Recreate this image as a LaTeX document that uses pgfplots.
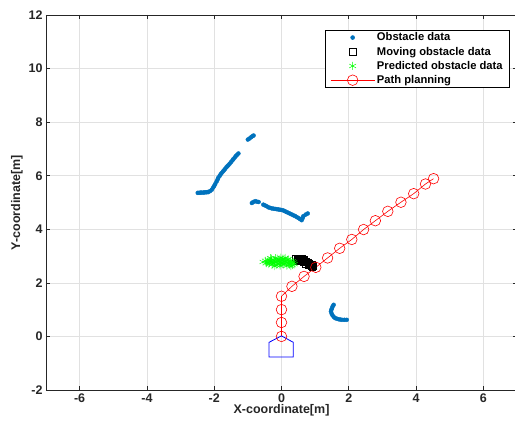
\documentclass[border=0pt]{standalone}
\usepackage{pgfplots}
\pgfplotsset{compat=1.18}
\usepackage{fontspec}
\setmainfont{Liberation Sans}
\definecolor{obsblue}{rgb}{0,0.447,0.741}
\definecolor{gridgray}{RGB}{225,225,225}
\definecolor{axgray}{RGB}{38,38,38}
\pgfplotsset{
    widelegend/.style={legend image code/.code={
        \draw[mark repeat=2,mark phase=2,##1] plot coordinates {(0pt,0pt) (22pt,0pt) (44pt,0pt)};}},
}
\begin{document}
\begin{tikzpicture}
\begin{axis}[
    scale only axis,
    width=471pt, height=375pt,
    xmin=-7, xmax=7, ymin=-2, ymax=12,
    xtick={-6,-4,...,6}, ytick={-2,0,...,12},
    tick align=inside,
    major tick length=4pt,
    grid=major,
    grid style={gridgray, line width=0.6pt},
    axis line style={axgray, line width=0.6pt},
    tick style={axgray, line width=0.6pt},
    ticklabel style={font=\bfseries\fontsize{12.5}{14}\selectfont, text=axgray},
    /pgf/number format/assume math mode=true,
    xlabel={X-coordinate[m]}, ylabel={Y-coordinate[m]},
    label style={font=\bfseries\fontsize{12.5}{14}\selectfont, text=axgray},
    xlabel style={yshift=5pt},
    ylabel style={yshift=-1pt},
    legend style={at={(0.985,0.96)}, anchor=north east,
        font=\bfseries\fontsize{11.2}{12}\selectfont, draw=black, line width=0.5pt,
        row sep=0.6pt, inner xsep=5pt, inner ysep=0.5pt,
        /tikz/every even column/.append style={column sep=2pt}},
    legend cell align=left,
]
\coordinate (sw) at (rel axis cs:0,0);
% obstacle data
\addplot[only marks, mark=*, mark size=2pt, color=obsblue, widelegend] coordinates {
(-2.49,5.36) (-2.45,5.36) (-2.41,5.37) (-2.37,5.37) (-2.32,5.37) (-2.28,5.38)
(-2.24,5.38) (-2.20,5.39) (-2.17,5.39) (-2.12,5.43) (-2.07,5.48) (-2.03,5.56)
(-2.00,5.62) (-1.97,5.69) (-1.93,5.78) (-1.90,5.86) (-1.88,5.92) (-1.84,5.99)
(-1.81,6.05) (-1.78,6.10) (-1.74,6.16) (-1.71,6.20) (-1.68,6.25) (-1.64,6.31)
(-1.61,6.35) (-1.58,6.39) (-1.54,6.45) (-1.50,6.51) (-1.46,6.57) (-1.43,6.62)
(-1.39,6.68) (-1.36,6.73) (-1.32,6.78) (-1.28,6.83)
(-1.00,7.35) (-0.95,7.39) (-0.90,7.44) (-0.86,7.48) (-0.83,7.50)
(-0.88,4.98) (-0.84,5.02) (-0.78,5.05) (-0.73,5.03) (-0.68,5.02)
(-0.54,4.92) (-0.49,4.89) (-0.44,4.86) (-0.39,4.82) (-0.34,4.80) (-0.29,4.78)
(-0.24,4.77) (-0.19,4.76) (-0.14,4.75) (-0.09,4.74) (-0.04,4.73) (0.01,4.72)
(0.06,4.70) (0.11,4.67) (0.16,4.64) (0.21,4.61) (0.26,4.58) (0.31,4.55)
(0.36,4.52) (0.41,4.49) (0.46,4.45) (0.51,4.42) (0.55,4.38) (0.60,4.34)
(0.63,4.42) (0.65,4.49) (0.72,4.55) (0.78,4.59)
(1.55,1.18) (1.52,1.12) (1.50,1.05) (1.48,0.99) (1.47,0.93) (1.49,0.85)
(1.52,0.78) (1.56,0.72) (1.60,0.68) (1.65,0.66) (1.70,0.64) (1.75,0.63)
(1.80,0.62) (1.87,0.62) (1.94,0.62)
};
\addlegendentry{Obstacle data}
% moving obstacle data
\addplot[only marks, mark=square, mark size=3.2pt, color=black, widelegend] coordinates {
(0.42,2.92) (0.46,2.88) (0.50,2.90) (0.54,2.86) (0.58,2.88) (0.62,2.84)
(0.66,2.82) (0.70,2.80) (0.74,2.79) (0.78,2.76) (0.82,2.72) (0.86,2.70)
(0.90,2.68) (0.94,2.64) (0.48,2.82) (0.56,2.80) (0.64,2.76) (0.72,2.72)
(0.80,2.68) (0.88,2.62) (0.92,2.60) (0.60,2.92) (0.68,2.88)
};
\addlegendentry{Moving obstacle data}
% predicted obstacle data
\addplot[only marks, mark=asterisk, mark size=4pt, color=green, widelegend] coordinates {
(-0.55,2.78) (-0.48,2.82) (-0.45,2.74) (-0.40,2.86) (-0.38,2.70) (-0.34,2.80)
(-0.30,2.90) (-0.28,2.68) (-0.25,2.76) (-0.22,2.84) (-0.18,2.92) (-0.16,2.66)
(-0.12,2.72) (-0.10,2.80) (-0.07,2.88) (-0.04,2.64) (-0.02,2.94) (0.00,2.76)
(0.03,2.84) (0.05,2.68) (0.08,2.90) (0.10,2.72) (0.13,2.80) (0.16,2.64)
(0.18,2.86) (0.21,2.74) (0.24,2.68) (0.26,2.82) (0.30,2.72) (0.33,2.66)
(0.36,2.76) (-0.33,2.92) (-0.20,2.62) (0.12,2.93) (0.28,2.62) (-0.05,2.70)
(-0.42,2.78) (-0.36,2.74) (-0.31,2.84) (-0.26,2.72) (-0.21,2.80) (-0.15,2.76)
(-0.09,2.84) (-0.03,2.78) (0.02,2.72) (0.07,2.80) (0.15,2.76) (0.22,2.80)
(0.27,2.76) (0.32,2.80) (0.38,2.70) (-0.13,2.90) (0.04,2.90) (0.20,2.88)
};
\addlegendentry{Predicted obstacle data}
% path planning
\addplot[color=red, line width=0.6pt, mark=o, mark size=5.3pt,
    mark options={line width=0.6pt}, widelegend] coordinates {
(0,0) (0,0.52) (0,1.0) (0,1.5) (0.31,1.87) (0.67,2.24) (1.02,2.58)
(1.37,2.93) (1.73,3.29) (2.09,3.62) (2.44,3.99) (2.79,4.32) (3.16,4.67)
(3.55,5.01) (3.93,5.33) (4.28,5.69) (4.52,5.89)
};
\addlegendentry{Path planning}
% vehicle outline
\addplot[color=blue, line width=0.8pt, forget plot] coordinates {
(0,0.02) (-0.37,-0.22) (-0.37,-0.77) (0.35,-0.77) (0.35,-0.22) (0,0.02)
};
\end{axis}
\pgfresetboundingbox
\path ([shift={(-46pt,-35pt)}]sw) rectangle ++(515pt,425pt);
\end{tikzpicture}
\end{document}
